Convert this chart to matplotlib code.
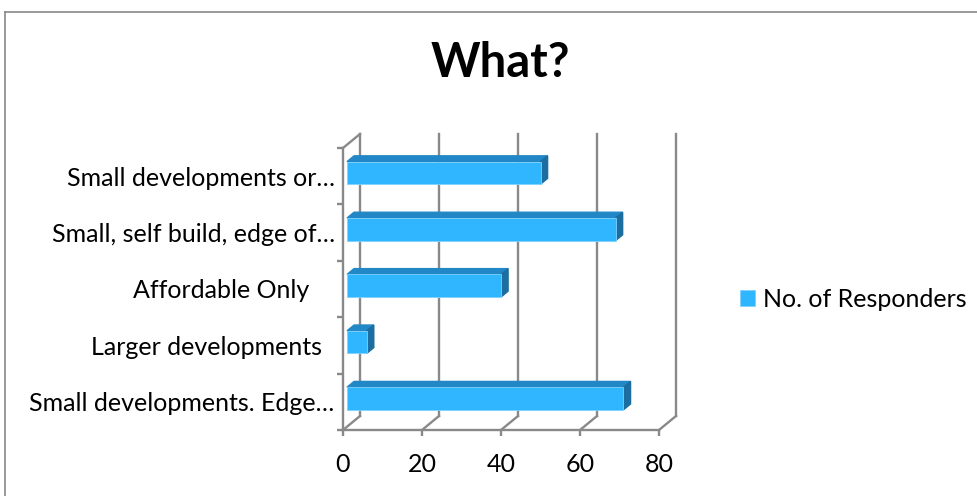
import matplotlib.pyplot as plt
from matplotlib.patches import Polygon
from matplotlib.lines import Line2D

# data, bottom bar first (Excel order)
categories = ["Small developments. Edge…", "Larger developments  ", "Affordable Only    ",
              "Small, self build, edge of…", "Small developments or…"]
responders = [70, 5, 39, 68, 49]
xticks = [0, 20, 40, 60, 80]
series_name = "No. of Responders"

plt.rcParams['font.family'] = ['Lato', 'DejaVu Sans']

W, H = 977, 496
gray = "#898989"
front_c, top_c, side_c = "#30B5FF", "#2287C6", "#1B6E9F"

# pixel mapping of the front plane
x0_px, ux = 343, 3.95
y0_px, uy = 430, 56.4
xlo, xhi = -2, 86
ylo, yhi = -0.75, 4.9
DX, DY = 17 / ux, 14 / uy     # depth of the 3d box in data units
f, b = 0.235, 0.65            # bar front / back depth fraction
h = 0.4
fs = 18

fig = plt.figure(figsize=(W / 100, H / 100), dpi=100)
left = (x0_px + xlo * ux) / W
right = (x0_px + xhi * ux) / W
bottom = (H - (y0_px - (ylo + 0.5) * uy)) / H
top = (H - (y0_px - (yhi + 0.5) * uy)) / H
ax = fig.add_axes([left, bottom, right - left, top - bottom])
ax.set_xlim(xlo, xhi)
ax.set_ylim(ylo, yhi)
ax.patch.set_visible(False)

for s in ['top', 'right']:
    ax.spines[s].set_visible(False)
ax.spines['bottom'].set_position(('data', -0.5))
ax.spines['bottom'].set_bounds(0, 80)
ax.spines['left'].set_position(('data', 0))
ax.spines['left'].set_bounds(-0.5, 4.5)
for s in ['bottom', 'left']:
    ax.spines[s].set_color(gray)
    ax.spines[s].set_linewidth(1.7)

ax.set_xticks(xticks)
ax.tick_params(axis='x', length=4.5, width=1.7, color=gray, pad=12, labelsize=fs)
ax.set_yticks(range(len(categories)), categories)
ax.set_yticks([i - 0.5 for i in range(len(categories) + 1)], minor=True)
ax.tick_params(axis='y', which='major', length=0, pad=6, labelsize=fs)
ax.tick_params(axis='y', which='minor', length=4.5, width=1.7, color=gray)

# back wall and floor
for v in xticks:
    ax.plot([v, v + DX], [-0.5, -0.5 + DY], color=gray, lw=1.7, zorder=1, clip_on=False)
    ax.plot([v + DX, v + DX], [-0.5 + DY, 4.5 + DY], color=gray, lw=1.7, zorder=1, clip_on=False)
ax.plot([0, DX], [4.5, 4.5 + DY], color=gray, lw=1.7, zorder=1, clip_on=False)

# bars
bars = ax.barh([i + f * DY for i in range(len(responders))], responders, left=f * DX,
               height=h, color=front_c, edgecolor="#7FD2FF", lw=0.6, zorder=3, label=series_name)
for i, v in enumerate(responders):
    yf, yb = i + f * DY, i + b * DY
    ax.add_patch(Polygon([(f * DX, yf + h / 2), (v + f * DX, yf + h / 2),
                          (v + b * DX, yb + h / 2), (b * DX, yb + h / 2)],
                         closed=True, color=top_c, zorder=2))
    ax.add_patch(Polygon([(v + f * DX, yf - h / 2), (v + f * DX, yf + h / 2),
                          (v + b * DX, yb + h / 2), (v + b * DX, yb - h / 2)],
                         closed=True, color=side_c, zorder=2))

# chart border
fig.add_artist(Line2D([5 / W, 5 / W], [0, 1 - 12 / H], transform=fig.transFigure, color=gray, lw=1.2))
fig.add_artist(Line2D([5 / W, 1], [1 - 12 / H, 1 - 12 / H], transform=fig.transFigure, color=gray, lw=1.2))

fig.text(0.512, 1 - 63 / H, "What?", ha='center', va='center', fontsize=34, fontweight='bold')

fig.legend(handles=[bars], loc='center left', bbox_to_anchor=(740 / W, 1 - 299.5 / H),
           frameon=False, borderpad=0, borderaxespad=0, handlelength=0.6, handleheight=0.6,
           handletextpad=0.33, fontsize=fs)

fig.savefig("out.png", dpi=100)
